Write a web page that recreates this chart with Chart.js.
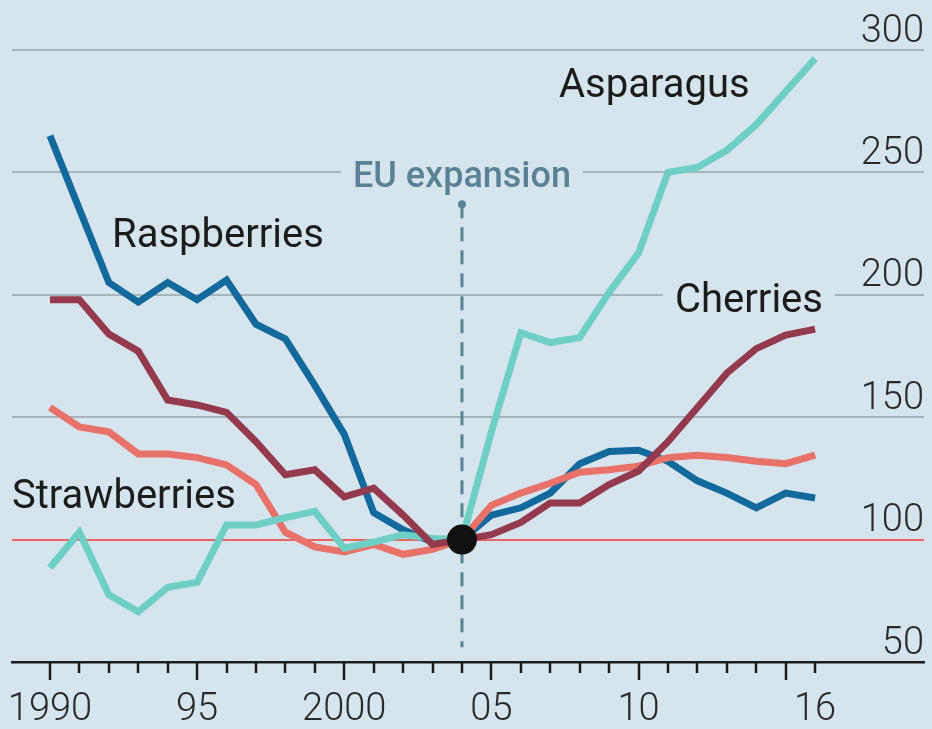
<!DOCTYPE html>
<html>
<head>
<meta charset="utf-8">
<script src="https://cdn.jsdelivr.net/npm/chart.js@4/dist/chart.umd.min.js"></script>
<style>
  html, body { margin: 0; padding: 0; background: #d6e5ed; }
</style>
</head>
<body>
<canvas id="chart" width="932" height="729"></canvas>
<script>
// Data: price index, 2004 = 100
const years = [1990, 1991, 1992, 1993, 1994, 1995, 1996, 1997, 1998, 1999,
  2000, 2001, 2002, 2003, 2004, 2005, 2006, 2007, 2008, 2009,
  2010, 2011, 2012, 2013, 2014, 2015, 2016];

const raspberries = [265, 235, 205, 197, 205, 198, 206, 188, 182, 163,
  143, 111, 104, 99, 100, 110, 113, 119, 131, 136,
  136.5, 132, 124, 119, 113, 119, 117];

const cherries = [198, 198, 184, 177, 157, 155, 152, 140, 126.5, 128.5,
  117.5, 121, 110, 98, 100, 102, 107, 115, 115, 122.5,
  128, 140, 154, 168, 178, 183.5, 186];

const strawberries = [154, 146, 144, 135, 135, 133.5, 130.5, 122.5, 103, 97,
  95, 98, 94, 96, 100, 114, 119, 123, 127.5, 128.5,
  130, 133.5, 134.5, 133.5, 132, 131, 134.5];

const asparagus = [88.5, 103, 77.5, 70.5, 80.5, 82.5, 106, 106, 109, 111.5,
  96.5, 99, 102, 100.5, 100, 144, 184.5, 180.5, 182.5, 201,
  217, 250, 252, 259, 269.5, 283, 296.5];

const yTicks = [50, 100, 150, 200, 250, 300];
const xLabelYears = [1990, 1995, 2000, 2005, 2010, 2016];
const xLabels = ['1990', '95', '2000', '05', '10', '16'];
const majorYears = [1990, 1995, 2000, 2005, 2010, 2015];

const eventYear = 2004;
const eventSpan = [237, 56];   // top / bottom of the dashed marker (index units)

// look
const bg = '#d6e5ed';
const font = 'Roboto, "Open Sans", Lato, sans-serif';
const inkDark = '#1c1c1c';
const eventColor = '#5b8195';

const toPoints = vals => years.map((yr, i) => ({ x: yr, y: vals[i] }));

// text annotations (pixel positions)
const notes = [
  { text: 'Raspberries', x: 112, y: 247 },
  { text: 'Asparagus', x: 559, y: 97 },
  { text: 'Cherries', x: 675, y: 312, gapOn: 200 },
  { text: 'Strawberries', x: 12, y: 508 }
];

const econPlugin = {
  id: 'econ',
  beforeDraw(chart) {
    const { ctx, width, height } = chart;
    ctx.save();
    ctx.fillStyle = bg;
    ctx.fillRect(0, 0, width, height);
    ctx.restore();
  },
  beforeDatasetsDraw(chart) {
    // cut the gridlines where labels sit
    const { ctx, scales: { x, y } } = chart;
    ctx.save();
    ctx.fillStyle = bg;
    ctx.font = '500 36px ' + font;
    const euW = ctx.measureText('EU expansion').width;
    const ex = x.getPixelForValue(eventYear);
    const y250 = y.getPixelForValue(250);
    ctx.fillRect(ex - euW / 2 - 12, y250 - 3, euW + 24, 6);
    ctx.font = '40px ' + font;
    notes.filter(n => n.gapOn).forEach(n => {
      const w = ctx.measureText(n.text).width;
      const py = y.getPixelForValue(n.gapOn);
      ctx.fillRect(n.x - 12, py - 3, w + 24, 6);
    });
    ctx.restore();
  },
  afterDatasetsDraw(chart) {
    const { ctx, chartArea, scales: { x, y } } = chart;
    ctx.save();
    // year tick marks
    ctx.strokeStyle = inkDark;
    ctx.lineWidth = 2.5;
    years.forEach(yr => {
      const px = Math.round(x.getPixelForValue(yr));
      const len = majorYears.includes(yr) ? 18 : 11;
      ctx.beginPath();
      ctx.moveTo(px, chartArea.bottom);
      ctx.lineTo(px, chartArea.bottom + len);
      ctx.stroke();
    });
    // series labels
    ctx.fillStyle = inkDark;
    ctx.font = '40px ' + font;
    ctx.textBaseline = 'alphabetic';
    ctx.textAlign = 'left';
    notes.forEach(n => ctx.fillText(n.text, n.x, n.y));
    // event label
    ctx.fillStyle = eventColor;
    ctx.font = '500 36px ' + font;
    ctx.textAlign = 'center';
    ctx.fillText('EU expansion', x.getPixelForValue(eventYear), 187);
    ctx.restore();
  }
};

const line = (label, vals, color, order) => ({
  type: 'line',
  label,
  data: toPoints(vals),
  borderColor: color,
  borderWidth: 7,
  pointRadius: 0,
  tension: 0,
  order
});

new Chart(document.getElementById('chart'), {
  type: 'line',
  data: {
    datasets: [
      {
        label: 'event',
        data: [{ x: eventYear, y: eventSpan[0] }, { x: eventYear, y: eventSpan[1] }],
        borderColor: eventColor,
        borderWidth: 3,
        borderDash: [14, 9],
        pointRadius: [4, 0],
        pointBackgroundColor: eventColor,
        pointBorderWidth: 0,
        order: 9
      },
      line('Raspberries', raspberries, '#14699c', 5),
      line('Strawberries', strawberries, '#e8716a', 4),
      line('Asparagus', asparagus, '#6fcfc4', 3),
      line('Cherries', cherries, '#933a4e', 2),
      {
        label: 'base',
        data: [{ x: eventYear, y: 100 }],
        showLine: false,
        pointRadius: 15,
        pointBackgroundColor: '#111111',
        pointBorderWidth: 0,
        order: 0
      }
    ]
  },
  options: {
    responsive: false,
    animation: false,
    devicePixelRatio: 1,
    layout: { autoPadding: false, padding: { left: 12, right: 8, top: 50, bottom: 0 } },
    plugins: { legend: { display: false }, tooltip: { enabled: false } },
    scales: {
      x: {
        type: 'linear',
        min: 1988.71,
        max: 2019.70,
        afterBuildTicks: s => { s.ticks = xLabelYears.map(v => ({ value: v })); },
        afterFit: s => { s.height = 67; s.paddingLeft = 0; s.paddingRight = 0; },
        grid: { drawOnChartArea: false, drawTicks: false },
        border: { display: true, color: inkDark, width: 2.5 },
        ticks: {
          autoSkip: false,
          maxRotation: 0,
          padding: 28,
          color: '#2a2a2a',
          font: { family: font, size: 38, weight: 300, lineHeight: 1.1 },
          callback: (v, i) => xLabels[i]
        }
      },
      y: {
        position: 'right',
        min: 50,
        max: 300,
        afterBuildTicks: s => { s.ticks = yTicks.map(v => ({ value: v })); },
        afterFit: s => { s.width = 0; s.paddingTop = 0; s.paddingBottom = 0; },
        grid: {
          drawTicks: false,
          lineWidth: 2,
          color: c => c.tick && c.tick.value === 100 ? '#e5675f'
            : (c.tick && c.tick.value === 50 ? 'rgba(0,0,0,0)' : '#a6b4bc')
        },
        border: { display: false },
        ticks: {
          mirror: true,
          padding: 0,
          labelOffset: -18,
          color: '#2a2a2a',
          font: { family: font, size: 38, weight: 300 }
        }
      }
    }
  },
  plugins: [econPlugin]
});
</script>
</body>
</html>
